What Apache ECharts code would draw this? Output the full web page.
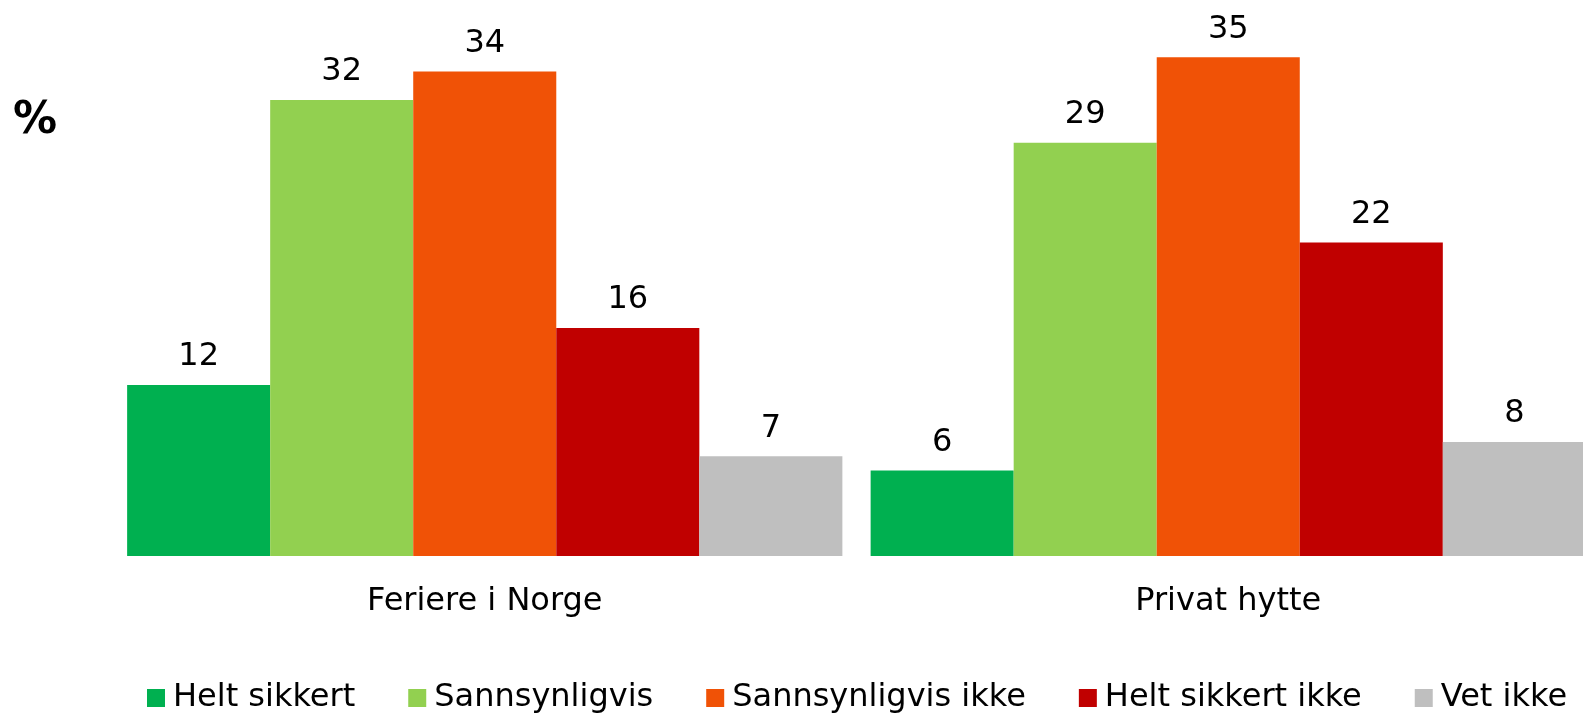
<!DOCTYPE html>
<html>
<head>
<meta charset="utf-8">
<script src="https://cdn.jsdelivr.net/npm/echarts@6/dist/echarts.min.js"></script>
<style>
    html, body { margin: 0; padding: 0; background: #fff; overflow: hidden; }
    #chart { width: 1600px; height: 715px; }
</style>
</head>
<body>
<div id="chart"></div>
<script>
var categories = ['Feriere i Norge', 'Privat hytte'];
var seriesNames = ['Helt sikkert', 'Sannsynligvis', 'Sannsynligvis ikke', 'Helt sikkert ikke', 'Vet ikke'];
var heltSikkert = [12, 6];
var sannsynligvis = [32, 29];
var sannsynligvisIkke = [34, 35];
var heltSikkertIkke = [16, 22];
var vetIkke = [7, 8];

var colors = ['#00B050', '#92D050', '#F05206', '#C00000', '#BFBFBF'];
var values = [heltSikkert, sannsynligvis, sannsynligvisIkke, heltSikkertIkke, vetIkke];
var fontFamily = '"DejaVu Sans", Verdana, sans-serif';

// the plot runs a little past the right edge of the window, like the original
var chart = echarts.init(document.getElementById('chart'));

var series = seriesNames.map(function(name, i) {
    return {
        name: name,
        type: 'bar',
        data: values[i],
        barGap: 0,
        barCategoryGap: '3.8%',
        itemStyle: { color: colors[i] },
        label: {
            show: true,
            position: 'top',
            distance: 12,
            color: '#000',
            fontSize: 32,
            fontFamily: fontFamily
        }
    };
});

chart.setOption({
    animation: false,
    color: colors,
    grid: { left: 113, top: 14.5, width: 1487, height: 541.5 },
    xAxis: {
        type: 'category',
        data: categories,
        axisLine: { show: false },
        axisTick: { show: false },
        axisLabel: { color: '#000', fontSize: 32, fontFamily: fontFamily, margin: 30 }
    },
    yAxis: {
        type: 'value',
        min: 0,
        max: 38,
        show: false,
        splitLine: { show: false }
    },
    legend: {
        data: seriesNames,
        left: 142,
        top: 677,
        itemWidth: 18,
        itemHeight: 18,
        itemGap: 53,
        icon: 'rect',
        textStyle: { color: '#000', fontSize: 32, fontFamily: fontFamily, padding: [0, 0, 0, 3] }
    },
    graphic: [{
        type: 'text',
        left: 13,
        top: 100,
        style: { text: '%', fill: '#000', font: 'bold 44px "DejaVu Sans", Verdana, sans-serif' }
    }],
    series: series
});
</script>
</body>
</html>
